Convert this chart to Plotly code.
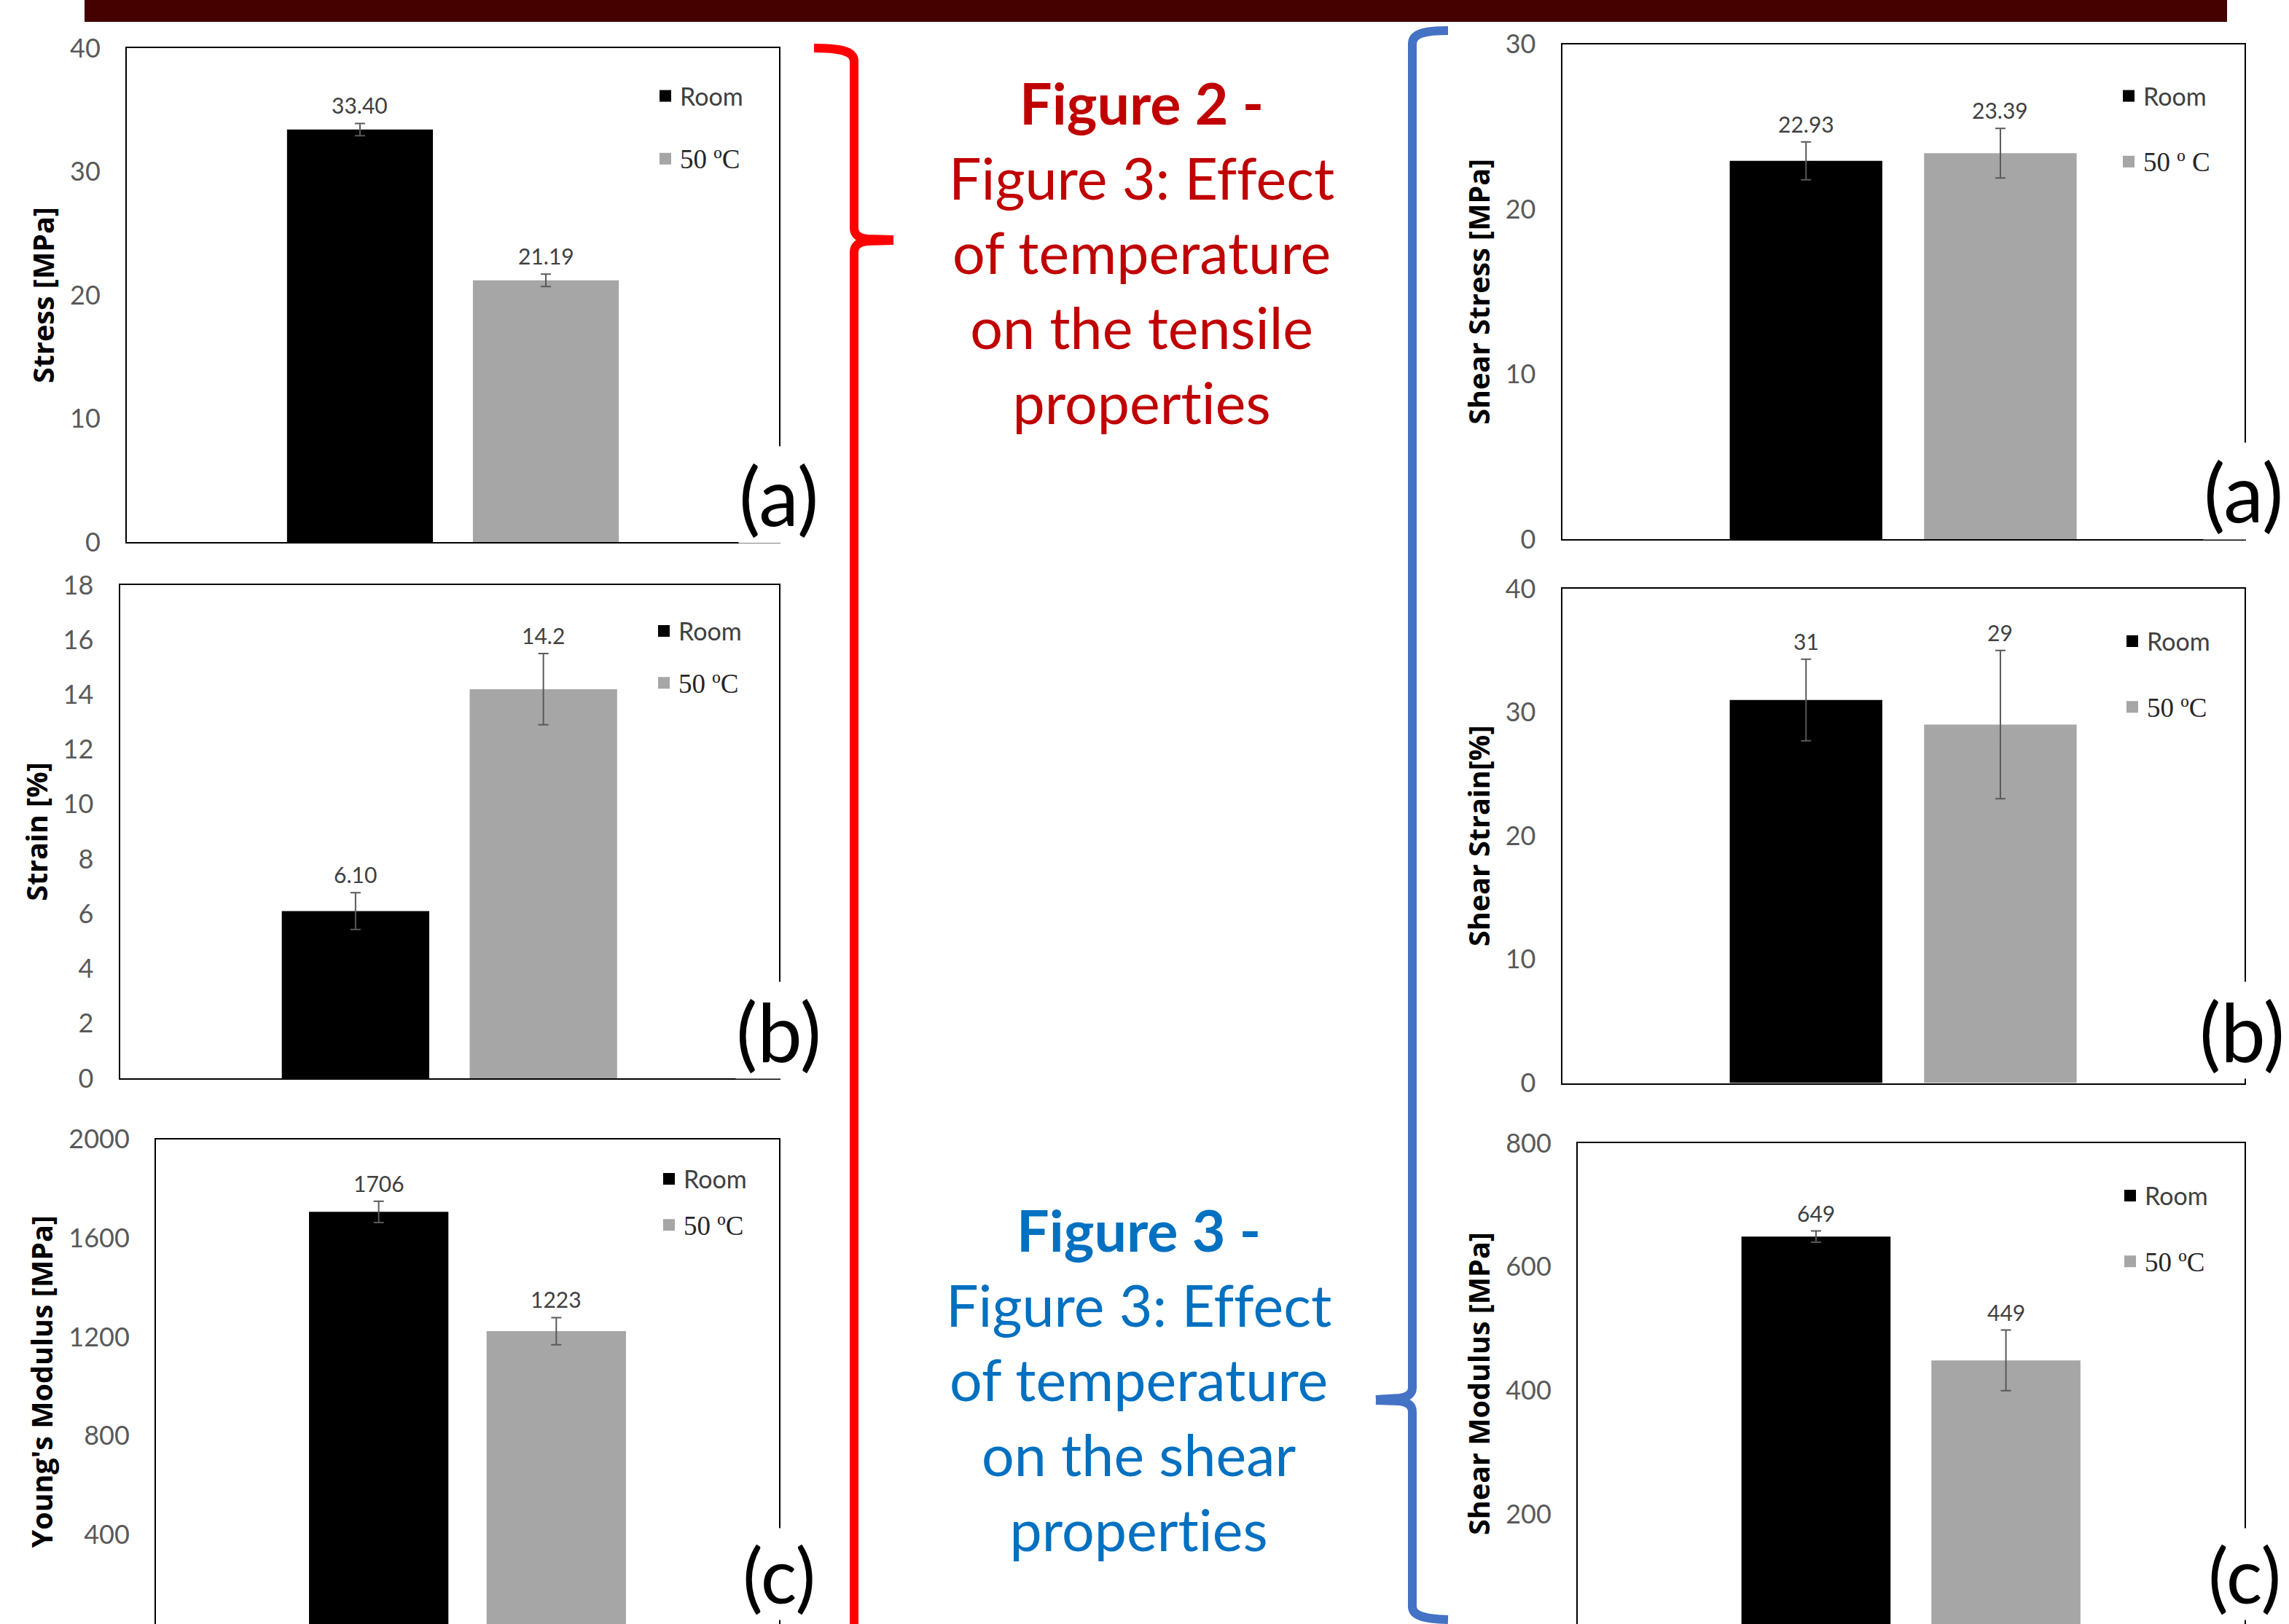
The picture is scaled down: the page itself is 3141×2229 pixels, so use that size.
import plotly.graph_objects as go

W, H = 3141, 2229

# ---------------- data ----------------
series = ["Room", "50 ºC"]
category = ["Sample"]

tensile_stress = [33.40, 21.19]
tensile_stress_err = [0.5, 0.5]
tensile_stress_lbl = ["33.40", "21.19"]

tensile_strain = [6.10, 14.2]
tensile_strain_err = [0.67, 1.3]
tensile_strain_lbl = ["6.10", "14.2"]

youngs_modulus = [1706, 1223]
youngs_modulus_err = [43, 55]
youngs_modulus_lbl = ["1706", "1223"]

shear_stress = [22.93, 23.39]
shear_stress_err = [1.15, 1.5]
shear_stress_lbl = ["22.93", "23.39"]

shear_strain = [31, 29]
shear_strain_err = [3.3, 6.0]
shear_strain_lbl = ["31", "29"]

shear_modulus = [649, 449]
shear_modulus_err = [9, 49]
shear_modulus_lbl = ["649", "449"]

# ---------------- styling / layout ----------------
BAR_COLORS = ["#000000", "#A6A6A6"]
BARGAP = 0.43
BARGROUPGAP = 0.215
TICK_FONT = dict(family="Lato", size=36, color="#595959")
TITLE_FONT = dict(family="Open Sans", size=39.5, color="#000000")
VAL_FONT = dict(family="Lato", size=30, color="#404040")
NOLIG = "font-variant-ligatures:none;font-feature-settings:'liga' 0"


def serif(t):
    return '<span style="font-family:Liberation Serif, serif; font-size:37px; color:#262626">' + t + '</span>'


panels = [
    dict(v=tensile_stress, e=tensile_stress_err, l=tensile_stress_lbl, title="Stress [MPa]",
         rng=[0, 40], dtick=10, frame=(174, 1069, 66, 744), cut=False,
         leg=(893, 133, 39), legname="50 ºC", tag="(a)", tagpos=(1068, 679), tagsize=110),
    dict(v=tensile_strain, e=tensile_strain_err, l=tensile_strain_lbl, title="Strain [%]",
         rng=[0, 18], dtick=2, frame=(164.5, 1069, 803, 1480), cut=False,
         leg=(891, 867.5, 24), legname="50 ºC", tag="(b)", tagpos=(1068, 1414), tagsize=110),
    dict(v=youngs_modulus, e=youngs_modulus_err, l=youngs_modulus_lbl, title="Young's Modulus [MPa]",
         rng=[38, 2000], dtick=400, frame=(214, 1069, 1563.6, 2229), cut=True,
         leg=(898, 1619.5, 16), legname="50 ºC", tag="(c)", tagpos=(1069, 2160), tagsize=104),
    dict(v=shear_stress, e=shear_stress_err, l=shear_stress_lbl, title="Shear Stress [MPa]",
         rng=[0, 30], dtick=10, frame=(2143.7, 3079.5, 60.6, 740), cut=False,
         leg=(2901, 133, 43), legname="50 º C", tag="(a)", tagpos=(3078, 674), tagsize=110),
    dict(v=shear_strain, e=shear_strain_err, l=shear_strain_lbl, title="Shear Strain[%]",
         rng=[0, 40], dtick=10, frame=(2143.7, 3079.5, 808, 1486.5), cut=False,
         leg=(2906, 881.5, 43), legname="50 ºC", tag="(b)", tagpos=(3076, 1414), tagsize=110),
    dict(v=shear_modulus, e=shear_modulus_err, l=shear_modulus_lbl, title="Shear Modulus [MPa]",
         rng=[23, 800], dtick=200, frame=(2165, 3079.5, 1569, 2229), cut=True,
         leg=(2903, 1642.5, 43), legname="50 ºC", tag="(c)", tagpos=(3080, 2160), tagsize=104),
]


def px(x, y):
    return x / W, 1 - y / H


fig = go.Figure()
layout = dict(
    template="none",
    width=W, height=H, autosize=False,
    margin=dict(l=0, r=0, t=0, b=0, pad=0, autoexpand=False),
    paper_bgcolor="white", plot_bgcolor="white",
    barmode="group", bargap=BARGAP, bargroupgap=BARGROUPGAP,
    showlegend=True,
)
annotations = []

for i, p in enumerate(panels):
    sfx = "" if i == 0 else str(i + 1)
    xa, ya = "x" + sfx, "y" + sfx
    x0, x1, y0, y1 = p["frame"]
    layout["xaxis" + sfx] = dict(
        domain=[x0 / W, x1 / W], anchor=ya, type="category", range=[-0.5, 0.5],
        showticklabels=False, ticks="", showgrid=False, zeroline=False, automargin=False,
        showline=True, linecolor="black", linewidth=2,
        mirror=False if p["cut"] else True, side="top" if p["cut"] else "bottom",
    )
    layout["yaxis" + sfx] = dict(
        domain=[1 - y1 / H, 1 - y0 / H], anchor=xa, range=p["rng"], tick0=0, dtick=p["dtick"],
        showgrid=False, zeroline=False, ticks="", ticklabelstandoff=27, automargin=False,
        showline=True, linecolor="black", linewidth=2, mirror=True,
        tickfont=TICK_FONT,
        title=dict(text="<b>" + p["title"] + "</b>", font=TITLE_FONT, standoff=9),
    )
    legkey = "legend" if i == 0 else "legend" + str(i + 1)
    names = [series[0], serif(p["legname"])]
    for j in range(2):
        fig.add_trace(go.Bar(
            x=category, y=[p["v"][j]], name=series[j], xaxis=xa, yaxis=ya,
            marker=dict(color=BAR_COLORS[j], line=dict(width=0)),
            error_y=dict(type="data", array=[p["e"][j]], color="#595959", thickness=2, width=7),
            showlegend=False, offsetgroup=str(j),
        ))
        # legend entry for the series
        fig.add_trace(go.Scatter(
            x=[None], y=[None], mode="markers", name=names[j], xaxis=xa, yaxis=ya,
            marker=dict(symbol="square", size=16, color=BAR_COLORS[j]),
            legend=legkey, legendgroup=f"{i}-{j}", showlegend=True,
        ))
        # value label above error bar
        annotations.append(dict(
            x=(-1 if j == 0 else 1) * (1 - BARGAP) / 4, y=p["v"][j] + p["e"][j],
            xref=xa, yref=ya, text=p["l"][j], showarrow=False,
            xanchor="center", yanchor="middle", yshift=25, font=VAL_FONT,
        ))
    lx, ly, gap = p["leg"]
    lxp, lyp = px(lx, ly - 30)
    layout[legkey] = dict(
        x=lxp, y=lyp, xanchor="left", yanchor="top", bgcolor="rgba(0,0,0,0)",
        font=dict(family="Lato", size=34, color="#404040"), tracegroupgap=gap,
        traceorder="grouped", itemsizing="trace", borderwidth=0,
    )
    tx, ty = px(*p["tagpos"])
    annotations.append(dict(
        x=tx, y=ty, xref="paper", yref="paper", text=p["tag"], showarrow=False,
        xanchor="center", yanchor="middle", bgcolor="white", borderpad=0,
        font=dict(family="Lato", size=p["tagsize"], color="black"),
    ))

# centre captions
cx, cy = px(1566, 345.5)
annotations.append(dict(
    x=cx, y=cy, xref="paper", yref="paper", showarrow=False, xanchor="center", yanchor="middle",
    text='<span style="' + NOLIG + '"><b>Figure 2 -</b><br>Figure 3: Effect<br>of temperature'
         '<br>on the tensile<br>properties</span>',
    font=dict(family="Lato", size=79, color="#C00000"), align="center",
))
cx, cy = px(1562, 1893)
annotations.append(dict(
    x=cx, y=cy, xref="paper", yref="paper", showarrow=False, xanchor="center", yanchor="middle",
    text='<span style="' + NOLIG + '"><b>Figure 3 -</b><br>Figure 3: Effect<br>of temperature'
         '<br>on the shear<br>properties</span>',
    font=dict(family="Lato", size=79, color="#0070C0"), align="center",
))


def px_path(segs):
    out = []
    for seg in segs:
        cmd, pts = seg[0], seg[1:]
        out.append(cmd + " ".join("%.5f,%.5f" % px(x, y) for x, y in pts))
    return " ".join(out)


red_brace = px_path([
    ("M", (1117, 66)), ("C", (1150, 66), (1172, 69), (1172, 84)), ("L", (1172, 313)),
    ("C", (1172, 323), (1180, 327), (1190, 328)), ("L", (1226, 329)),
    ("M", (1226, 330)), ("L", (1190, 331)), ("C", (1180, 332), (1172, 336), (1172, 346)),
    ("L", (1172, 2245)),
])
blue_brace = px_path([
    ("M", (1987, 42)), ("C", (1955, 42), (1938, 46), (1938, 60)), ("L", (1938, 1905)),
    ("C", (1938, 1914), (1930, 1918), (1920, 1919)), ("L", (1888, 1921)),
    ("M", (1888, 1922)), ("L", (1920, 1923)), ("C", (1930, 1924), (1938, 1928), (1938, 1937)),
    ("L", (1938, 2205)), ("C", (1938, 2218), (1955, 2222), (1987, 2223)),
])
bx0, by0 = px(116, 30)
bx1, by1 = px(3056, 0)
layout["shapes"] = [
    dict(type="rect", xref="paper", yref="paper", x0=bx0, x1=bx1, y0=by0, y1=by1,
         fillcolor="#450000", line=dict(width=0)),
    dict(type="path", xref="paper", yref="paper", path=red_brace,
         line=dict(color="#FF0000", width=12)),
    dict(type="path", xref="paper", yref="paper", path=blue_brace,
         line=dict(color="#4472C4", width=12)),
]
layout["annotations"] = annotations
fig.update_layout(**layout)
fig.write_html("out.html", config={"displayModeBar": False},
               post_script="document.body.style.margin='0';document.body.style.overflow='hidden';")
